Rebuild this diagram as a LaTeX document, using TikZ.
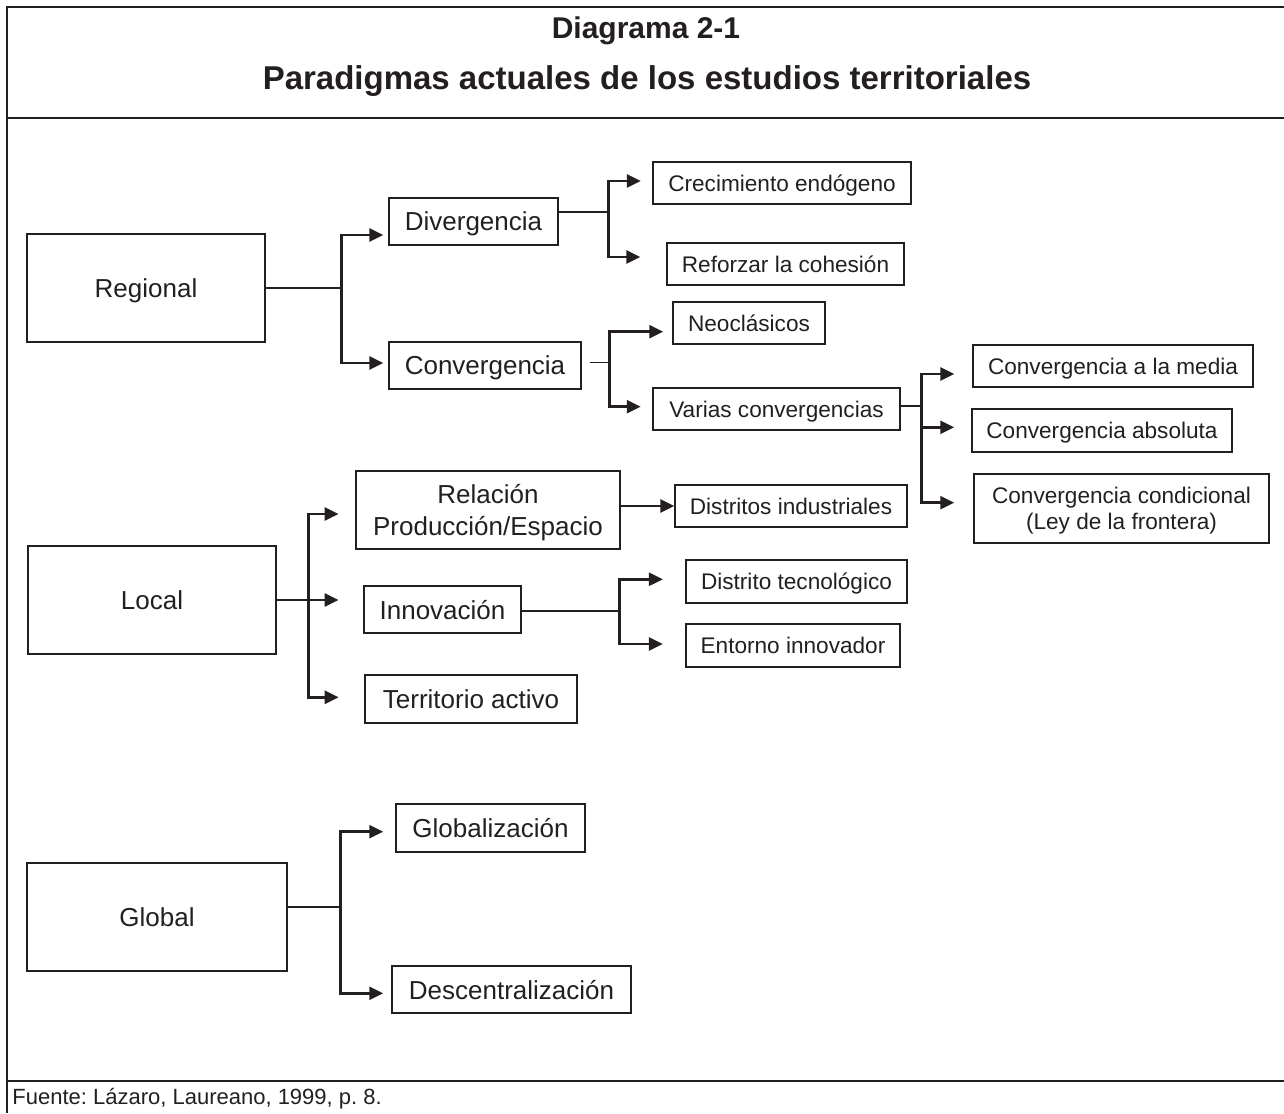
\documentclass[tikz,border=0pt]{standalone}
\usepackage{fontspec}
\setmainfont{Liberation Sans}
\frenchspacing
\usepackage{tikz}
\usetikzlibrary{arrows.meta,calc}
\definecolor{ink}{HTML}{231F20}
\tikzstyle{bigbox} = [rectangle,
    draw=ink, line width=0.75pt,
    text=ink,
    align=center,
    inner sep=0pt,
    text depth=0pt,
    font=\fontsize{13}{16}\selectfont]
\tikzstyle{smallbox} = [rectangle,
    draw=ink, line width=0.75pt,
    text=ink,
    align=center,
    inner sep=0pt,
    text depth=0pt,
    font=\fontsize{11.3}{13}\selectfont]
\tikzstyle{arrow} = [draw=ink, line width=1.3pt, -{Triangle[length=7pt,width=6.5pt]}]

\begin{document}
\begin{tikzpicture}[x=0.5pt, y=-0.5pt,
    line/.style={draw=ink, line width=0.7pt},
    frame/.style={draw=ink, line width=1pt},
    titletext/.style={text=ink, font=\bfseries\fontsize{#1}{18}\selectfont}
    ]
  \useasboundingbox (0,0) rectangle (1284,1113);
  % frame
  \draw[frame] (1284,7) -- (7,7) -- (7,1113);
  \draw[frame] (7,118) -- (1284,118);
  \draw[frame] (7,1081) -- (1284,1081);
  \node[titletext=15] (diag) at (646,31) {Diagrama 2-1};
  \node[titletext=16.5] (parad) at (647,81) {Paradigmas actuales de los estudios territoriales};
  \node[anchor=west, inner sep=0pt, text=ink, font=\fontsize{11}{12}\selectfont] (fuente) at (12,1099) {Fuente: Lázaro, Laureano, 1999, p. 8.};

  % regional
  \node[bigbox, minimum width=119pt, minimum height=54pt] (Reg) at (146,288) {Regional};
  \node[bigbox, minimum width=84.5pt, minimum height=23.5pt] (Div) at (473.5,221.5) {Divergencia};
  \node[bigbox, minimum width=96pt, minimum height=23.5pt] (Conv) at (485,365.5) {Convergencia};
  \node[smallbox, minimum width=129pt, minimum height=21pt] (Crec) at (782,183) {Crecimiento endógeno};
  \node[smallbox, minimum width=118.5pt, minimum height=21pt] (Refz) at (785.5,264) {Reforzar la cohesión};
  \node[smallbox, minimum width=76pt, minimum height=21pt] (Neo) at (749,323) {Neoclásicos};
  \node[smallbox, minimum width=123.5pt, minimum height=21pt] (Var) at (776.5,409) {Varias convergencias};
  \node[smallbox, minimum width=140pt, minimum height=21pt] (Media) at (1113,366) {Convergencia a la media};
  \node[smallbox, minimum width=130pt, minimum height=21.5pt] (Abs) at (1102,430.5) {Convergencia absoluta};
  \node[smallbox, minimum width=147.5pt, minimum height=34.5pt] (Cond) at (1121.5,508.5) {Convergencia condicional\\(Ley de la frontera)};

  % local
  \node[bigbox, minimum width=132pt, minimum height=39pt] (Rel) at (488,510) {Relación\\Producción/Espacio};
  \node[smallbox, minimum width=116pt, minimum height=21pt] (DInd) at (791,506) {Distritos industriales};
  \node[bigbox, minimum width=124pt, minimum height=54pt] (Loc) at (152,600) {Local};
  \node[bigbox, minimum width=78.5pt, minimum height=23.5pt] (Inn) at (442.5,609.5) {Innovación};
  \node[bigbox, minimum width=106pt, minimum height=24pt] (Terr) at (471,699) {Territorio activo};
  \node[smallbox, minimum width=110.5pt, minimum height=21.5pt] (DTec) at (796.5,581.5) {Distrito tecnológico};
  \node[smallbox, minimum width=107pt, minimum height=21.5pt] (Ent) at (793,645.5) {Entorno innovador};

  % global
  \node[bigbox, minimum width=94.5pt, minimum height=24pt] (Globz) at (490.5,828) {Globalización};
  \node[bigbox, minimum width=130pt, minimum height=54pt] (Glo) at (157,917) {Global};
  \node[bigbox, minimum width=119.5pt, minimum height=23.5pt] (Desc) at (511.5,989.5) {Descentralización};

  % connectors
  \draw[line] (Reg.east) -- ++(76,0) coordinate (regj);
  \draw[arrow] (regj) |- ([xshift=-2.5pt,yshift=-6.75pt]Div.west);
  \draw[arrow] (regj) |- ([xshift=-2.5pt,yshift=1.25pt]Conv.west);

  \draw[line] ([yshift=4.75pt]Div.east) -- ++(50,0) coordinate (divj);
  \draw[arrow] (divj) |- ([xshift=-5.75pt,yshift=1pt]Crec.west);
  \draw[arrow] (divj) |- ([xshift=-13pt,yshift=3.5pt]Refz.west);

  \draw[line] ([xshift=4pt,yshift=1.4pt]Conv.east) -- ++(20,0) coordinate (convj);
  \draw[arrow] (convj) |- ([xshift=-4.5pt,yshift=-4.35pt]Neo.west);
  \draw[arrow] (convj) |- ([xshift=-5.75pt,yshift=1.15pt]Var.west);

  \draw[line] ([yshift=1.5pt]Var.east) -- ++(21,0) coordinate (varj);
  \draw[arrow] (varj) |- ([xshift=-9pt,yshift=-4pt]Media.west);
  \draw[arrow] (varj) |- ([xshift=-8.5pt,yshift=1.6pt]Abs.west);
  \draw[arrow] (varj) |- ([xshift=-9.5pt,yshift=2.9pt]Cond.west);

  \draw[arrow] ([yshift=2pt]Rel.east) -- (DInd.west);

  \draw[line] (Loc.east) -- ++(32,0) coordinate (locj);
  \draw[arrow] (locj) |- ([xshift=-8.3pt,yshift=-2pt]Rel.west);
  \draw[arrow] (locj) |- ([xshift=-12.3pt,yshift=4.75pt]Inn.west);
  \draw[arrow] (locj) |- ([xshift=-12.8pt,yshift=0.85pt]Terr.west);

  \draw[line] ([yshift=-0.75pt]Inn.east) -- ++(98,0) coordinate (innj);
  \draw[arrow] (innj) |- ([xshift=-11.2pt,yshift=1.1pt]DTec.west);
  \draw[arrow] (innj) |- ([xshift=-11.2pt,yshift=0.75pt]Ent.west);

  \draw[line] ([yshift=5pt]Glo.east) -- ++(53,0) coordinate (globj);
  \draw[arrow] (globj) |- ([xshift=-6pt,yshift=-1.85pt]Globz.west);
  \draw[arrow] (globj) |- ([xshift=-4pt,yshift=-1.9pt]Desc.west);
\end{tikzpicture}
\end{document}
